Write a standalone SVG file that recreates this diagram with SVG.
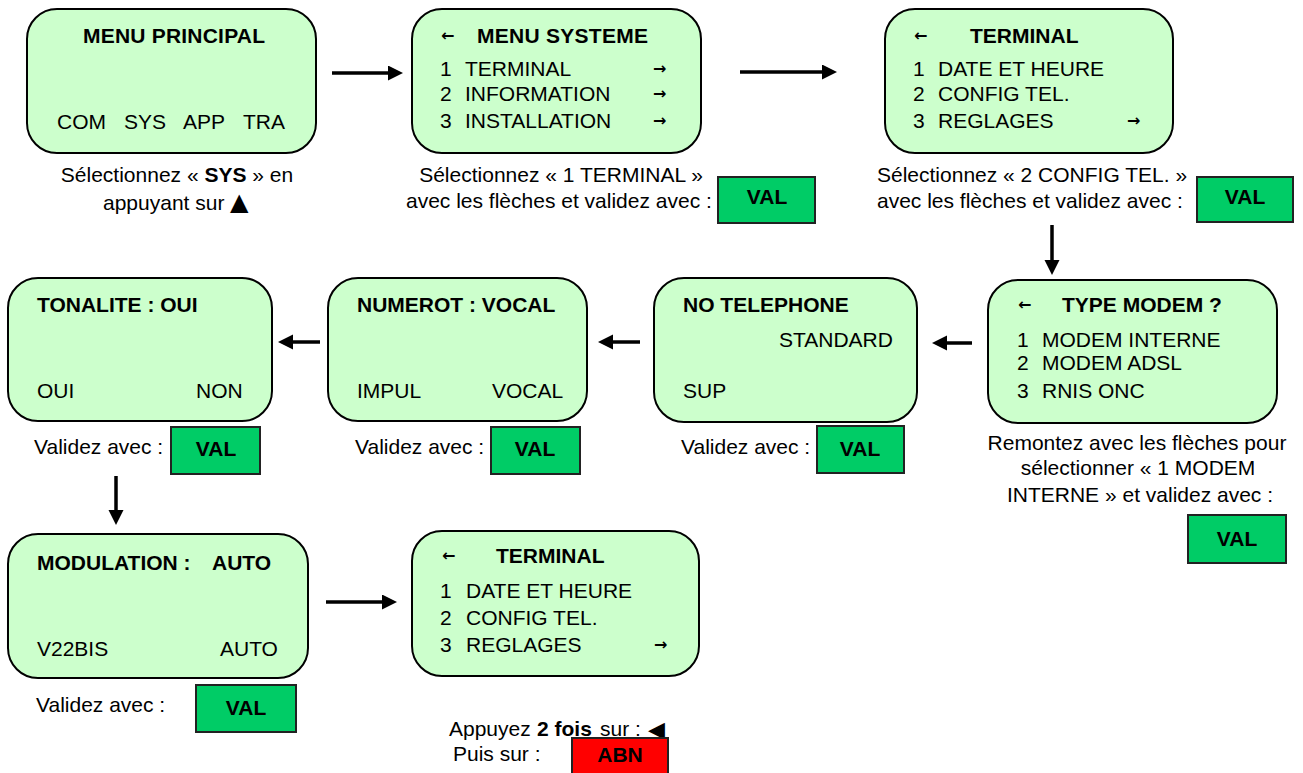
<svg xmlns="http://www.w3.org/2000/svg" width="1303" height="773" viewBox="0 0 1303 773">
<defs>
<style>
text{font-family:"Liberation Sans",Arial,sans-serif;font-size:21px;fill:#000}
.b{font-weight:bold}
.m{text-anchor:middle}
.ar{font-family:"DejaVu Sans",sans-serif;font-weight:bold;font-size:16px}
.sym{font-family:"DejaVu Sans",sans-serif;font-size:24px}
.scr{fill:#CCFFCC;stroke:#000;stroke-width:2}
.val{fill:#00CC66;stroke:#222;stroke-width:2}
.abn{fill:#FF0000;stroke:#222;stroke-width:2}
.con{stroke:#000;stroke-width:3.5;fill:none;marker-end:url(#ah)}
</style>
<marker id="ah" markerWidth="16" markerHeight="16" refX="2" refY="7.5" orient="auto" markerUnits="userSpaceOnUse">
<path d="M0,0 L15,7.5 L0,15 z" fill="#000"/>
</marker>
</defs>
<rect width="1303" height="773" fill="#fff"/>

<g id="connectors">
<line class="con" x1="332" y1="73" x2="390" y2="73"/>
<line class="con" x1="740" y1="72" x2="824" y2="72"/>
<line class="con" x1="1052" y1="225" x2="1052" y2="262"/>
<line class="con" x1="972" y1="343" x2="945" y2="343"/>
<line class="con" x1="640" y1="342" x2="611" y2="342"/>
<line class="con" x1="320" y1="342" x2="291" y2="342"/>
<line class="con" x1="116" y1="476" x2="116" y2="512"/>
<line class="con" x1="326" y1="602" x2="384" y2="602"/>
</g>

<g id="menu-principal">
<rect class="scr" x="27" y="9" width="289" height="144" rx="30"/>
<text class="b m" x="174" y="43" textLength="182">MENU PRINCIPAL</text>
<text x="57" y="129">COM</text>
<text x="124" y="129">SYS</text>
<text x="183" y="129">APP</text>
<text x="243" y="129">TRA</text>
<text class="m" x="177" y="182">Sélectionnez « <tspan class="b">SYS</tspan> » en</text>
<text x="103" y="210">appuyant sur</text>
<text class="sym" x="230" y="210">▲</text>
</g>

<g id="menu-systeme">
<rect class="scr" x="412" y="9" width="289" height="144" rx="30"/>
<text class="ar" x="441" y="41">←</text>
<text class="b" x="477" y="43" textLength="171">MENU SYSTEME</text>
<text x="440" y="76">1</text><text x="465" y="76">TERMINAL</text><text class="ar" x="653" y="74">→</text>
<text x="440" y="101">2</text><text x="465" y="101">INFORMATION</text><text class="ar" x="653" y="99">→</text>
<text x="440" y="128">3</text><text x="465" y="128">INSTALLATION</text><text class="ar" x="653" y="126">→</text>
<text class="m" x="561" y="182">Sélectionnez « 1 TERMINAL »</text>
<text x="406" y="208">avec les flèches et validez avec  :</text>
<rect class="val" x="718" y="177" width="97" height="46"/>
<text class="b m" x="767" y="204">VAL</text>
</g>

<g id="terminal-1">
<rect class="scr" x="885" y="9" width="288" height="144" rx="30"/>
<text class="ar" x="914" y="41">←</text>
<text class="b" x="970" y="43">TERMINAL</text>
<text x="913" y="76">1</text><text x="938" y="76">DATE ET HEURE</text>
<text x="913" y="101">2</text><text x="938" y="101">CONFIG TEL.</text>
<text x="913" y="128">3</text><text x="938" y="128">REGLAGES</text><text class="ar" x="1127" y="126">→</text>
<text x="877" y="182">Sélectionnez « 2 CONFIG TEL. »</text>
<text x="877" y="208">avec les flèches et validez avec  :</text>
<rect class="val" x="1197" y="177" width="96" height="45"/>
<text class="b m" x="1245" y="204">VAL</text>
</g>

<g id="type-modem">
<rect class="scr" x="988" y="280" width="289" height="143" rx="30"/>
<text class="ar" x="1018" y="310">←</text>
<text class="b" x="1062" y="312">TYPE MODEM  ?</text>
<text x="1017" y="347">1</text><text x="1042" y="347">MODEM INTERNE</text>
<text x="1017" y="370">2</text><text x="1042" y="370">MODEM ADSL</text>
<text x="1017" y="398">3</text><text x="1042" y="398">RNIS ONC</text>
<text class="m" x="1137" y="450">Remontez avec les flèches pour</text>
<text class="m" x="1138" y="475">sélectionner «  1 MODEM</text>
<text class="m" x="1140" y="502">INTERNE »  et validez avec  :</text>
<rect class="val" x="1188" y="515" width="98" height="48"/>
<text class="b m" x="1237" y="546">VAL</text>
</g>

<g id="no-telephone">
<rect class="scr" x="654" y="278" width="263" height="144" rx="30"/>
<text class="b" x="683" y="312">NO TELEPHONE</text>
<text x="779" y="347">STANDARD</text>
<text x="683" y="398">SUP</text>
<text x="681" y="454">Validez avec :</text>
<rect class="val" x="817" y="426" width="87" height="47"/>
<text class="b m" x="860" y="456">VAL</text>
</g>

<g id="numerot">
<rect class="scr" x="328" y="278" width="259" height="143" rx="30"/>
<text class="b" x="357" y="312">NUMEROT : VOCAL</text>
<text x="357" y="398">IMPUL</text>
<text x="492" y="398">VOCAL</text>
<text x="355" y="454">Validez avec :</text>
<rect class="val" x="491" y="427" width="89" height="47"/>
<text class="b m" x="535" y="456">VAL</text>
</g>

<g id="tonalite">
<rect class="scr" x="8" y="278" width="264" height="143" rx="30"/>
<text class="b" x="37" y="312">TONALITE :  OUI</text>
<text x="37" y="398">OUI</text>
<text x="196" y="398">NON</text>
<text x="34" y="454">Validez avec :</text>
<rect class="val" x="171" y="427" width="89" height="47"/>
<text class="b m" x="216" y="456">VAL</text>
</g>

<g id="modulation">
<rect class="scr" x="8" y="534" width="300" height="144" rx="30"/>
<text class="b" x="37" y="570">MODULATION :</text>
<text class="b" x="212" y="570">AUTO</text>
<text x="37" y="656">V22BIS</text>
<text x="220" y="656">AUTO</text>
<text x="36" y="712">Validez avec :</text>
<rect class="val" x="196" y="685" width="100" height="47"/>
<text class="b m" x="246" y="715">VAL</text>
</g>

<g id="terminal-2">
<rect class="scr" x="412" y="531" width="287" height="145" rx="30"/>
<text class="ar" x="442" y="561">←</text>
<text class="b" x="496" y="563">TERMINAL</text>
<text x="440" y="598">1</text><text x="466" y="598">DATE ET HEURE</text>
<text x="440" y="625">2</text><text x="466" y="625">CONFIG TEL.</text>
<text x="440" y="652">3</text><text x="466" y="652">REGLAGES</text><text class="ar" x="654" y="650">→</text>
<text x="449" y="736">Appuyez</text>
<text class="b" x="537" y="736">2 fois</text>
<text x="600" y="736">sur :</text>
<text class="sym" x="648" y="737" style="font-size:22px">◀</text>
<text x="453" y="761">Puis sur :</text>
<rect class="abn" x="572" y="738" width="96" height="45"/>
<text class="b m" x="620" y="762">ABN</text>
</g>
</svg>
